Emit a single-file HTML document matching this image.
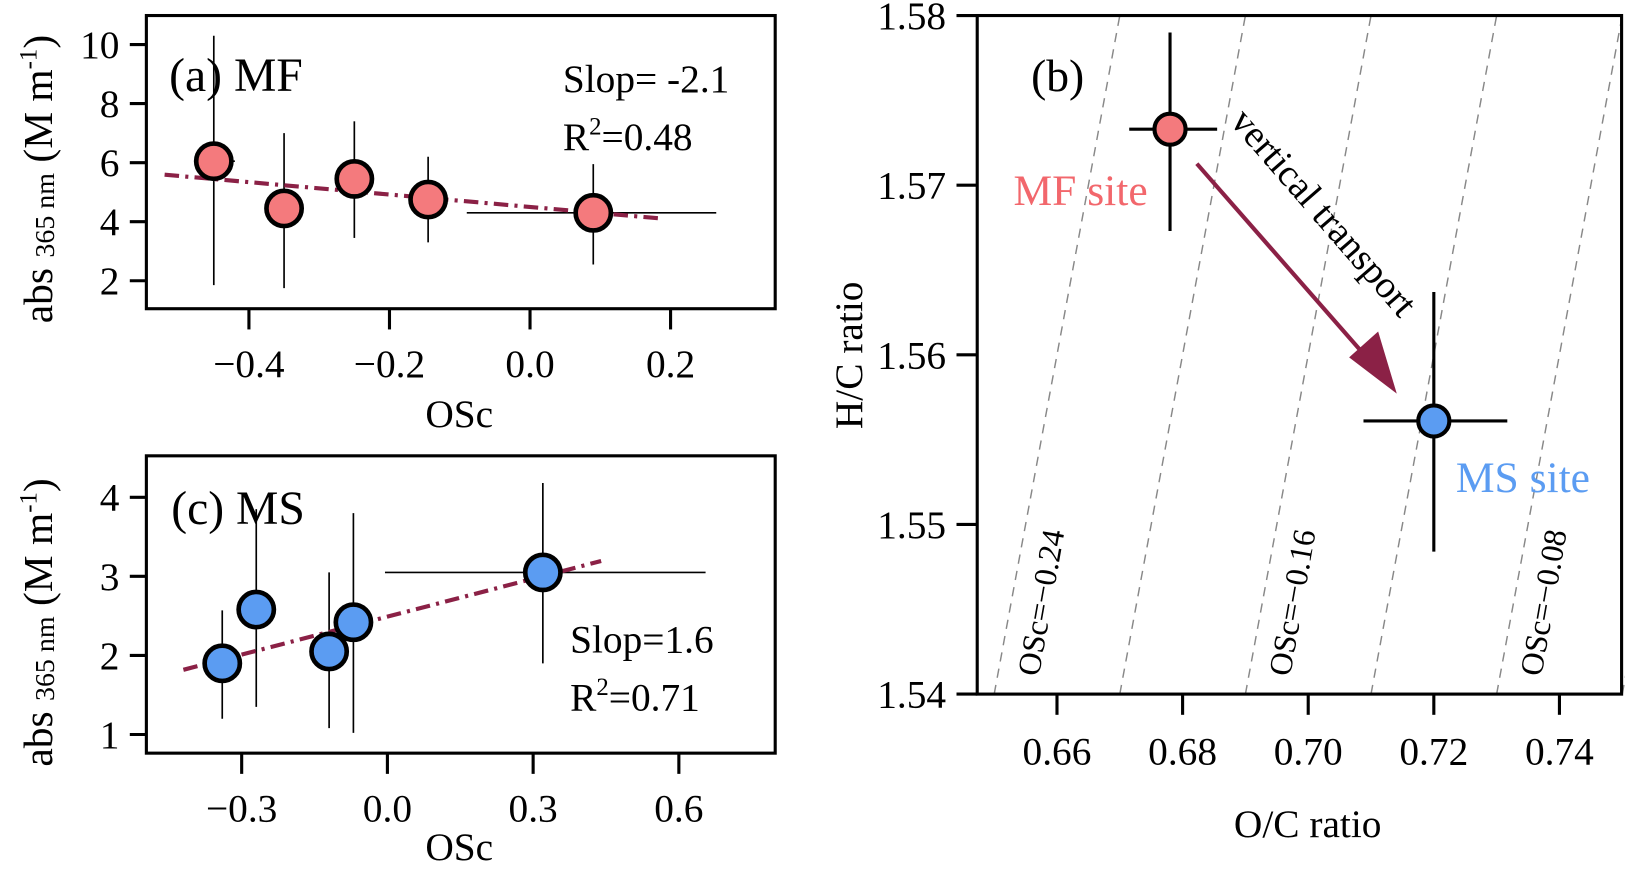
<!DOCTYPE html>
<html><head><meta charset="utf-8"><style>
html,body{margin:0;padding:0;background:#fff;}
svg, svg text{font-family:"Liberation Serif","DejaVu Serif",serif;}
</style></head><body>
<svg id="fig" width="1625" height="864" viewBox="0 0 1568 834" xmlns="http://www.w3.org/2000/svg" font-family="Liberation Serif, serif"></svg>
<script>
// ---- Panel (a) MF data ----
const aX=[-0.45,-0.35,-0.25,-0.145,0.09];
const aY=[6.05,4.45,5.45,4.75,4.3];
const aYlo=[1.85,1.75,3.45,3.3,2.55];
const aYhi=[10.3,7.0,7.4,6.2,5.95];
const aXlo=[-0.47,-0.35,-0.25,-0.145,-0.09];
const aXhi=[-0.42,-0.35,-0.25,-0.145,0.265];
const aFit=[4.5,-2.1]; const aFitRange=[-0.52,0.19];
const aXTicks=[-0.4,-0.2,0.0,0.2]; const aXTickLabels=["\u22120.4","\u22120.2","0.0","0.2"];
const aYTicks=[2,4,6,8,10];
// ---- Panel (c) MS data ----
const cX=[-0.34,-0.27,-0.12,-0.07,0.32];
const cY=[1.9,2.58,2.05,2.42,3.05];
const cYlo=[1.2,1.35,1.08,1.02,1.9];
const cYhi=[2.57,3.85,3.05,3.8,4.18];
const cXlo=[-0.36,-0.28,-0.14,-0.08,-0.005];
const cXhi=[-0.32,-0.26,-0.10,-0.06,0.655];
const cFit=[2.49,1.6]; const cFitRange=[-0.42,0.44];
const cXTicks=[-0.3,0.0,0.3,0.6]; const cXTickLabels=["\u22120.3","0.0","0.3","0.6"];
const cYTicks=[1,2,3,4];
// ---- Panel (b) van Krevelen ----
const bOC=[0.678,0.720]; const bHC=[1.5733,1.5561];
const bOClo=[0.6715,0.7088]; const bOChi=[0.6855,0.7317];
const bHClo=[1.5673,1.5484]; const bHChi=[1.579,1.5637];
const bOsc=[-0.24,-0.20,-0.16,-0.12,-0.08,-0.04];
const bOscLabeled=[-0.24,-0.16,-0.08];
const bXTicks=[0.66,0.68,0.70,0.72,0.74]; const bXTickLabels=["0.66","0.68","0.70","0.72","0.74"];
const bYTicks=[1.54,1.55,1.56,1.57,1.58];

const NS="http://www.w3.org/2000/svg";
const svg=document.getElementById('fig');
const FF="Liberation Serif, serif";
function mk(tag,attrs,parent,text){const e=document.createElementNS(NS,tag);for(const k in attrs)e.setAttribute(k,attrs[k]);if(tag==='text')e.setAttribute('font-family',FF);if(text!==undefined)e.textContent=text;(parent||svg).appendChild(e);return e;}
function lin(d0,d1,p0,p1){return v=>p0+(v-d0)*(p1-p0)/(d1-d0);}

function scatterPanel(cfg){
  const g=mk('g',{});
  
  
  const sx=cfg.sx, sy=cfg.sy, B=cfg.box;
  cfg.xt.forEach((t,i)=>{
    const l=mk('line',{x1:sx(t),x2:sx(t),y1:B.b,y2:B.b+20,stroke:'#000','stroke-width':3},g);
    
    const tx=mk('text',{x:sx(t),y:B.b+66,'font-size':38,'text-anchor':'middle'},g,cfg.xtl[i]);
    
  });
  cfg.yt.forEach(t=>{
    const l=mk('line',{x1:B.l-16,x2:B.l,y1:sy(t),y2:sy(t),stroke:'#000','stroke-width':3},g);
    
    const tx=mk('text',{x:B.l-26,y:sy(t)+13,'font-size':38,'text-anchor':'end'},g,String(t));
    
  });
  cfg.X.forEach((x,i)=>{
    const v=mk('line',{x1:sx(x),x2:sx(x),y1:sy(cfg.Ylo[i]),y2:sy(cfg.Yhi[i]),stroke:'#000','stroke-width':1.6},g);
    
    const h=mk('line',{x1:sx(cfg.Xlo[i]),x2:sx(cfg.Xhi[i]),y1:sy(cfg.Y[i]),y2:sy(cfg.Y[i]),stroke:'#000','stroke-width':1.6},g);
    
  });
  const f=cfg.fit, r=cfg.fr;
  const fl=mk('line',{x1:sx(r[0]),y1:sy(f[0]+f[1]*r[0]),x2:sx(r[1]),y2:sy(f[0]+f[1]*r[1]),stroke:'#8b2146','stroke-width':4,'stroke-dasharray':'14 6 3 6'},g);
  
  cfg.X.forEach((x,i)=>{
    const c=mk('circle',{cx:sx(x),cy:sy(cfg.Y[i]),r:17,fill:cfg.color,stroke:'#000','stroke-width':4.5},g);
    
  });
  const bx=mk('rect',{x:B.l,y:B.t,width:B.r-B.l,height:B.b-B.t,fill:'none',stroke:'#000','stroke-width':3},g);
  
  return g;
}

scatterPanel({name:'panel-a-mf',box:{l:141,r:748,t:15,b:298},sx:lin(-0.4,0.2,240,647),sy:lin(2,10,271,43),
  xt:aXTicks,xtl:aXTickLabels,yt:aYTicks,X:aX,Y:aY,Ylo:aYlo,Yhi:aYhi,Xlo:aXlo,Xhi:aXhi,fit:aFit,fr:aFitRange,color:'#f47a7d'});
scatterPanel({name:'panel-c-ms',box:{l:141,r:748,t:440,b:727},sx:lin(-0.3,0.6,233,655),sy:lin(1,4,709,480),
  xt:cXTicks,xtl:cXTickLabels,yt:cYTicks,X:cX,Y:cY,Ylo:cYlo,Yhi:cYhi,Xlo:cXlo,Xhi:cXhi,fit:cFit,fr:cFitRange,color:'#5b9cf2'});

const gb=mk('g',{});


const bx=lin(0.66,0.74,1020,1505), by=lin(1.54,1.58,670,15);
const BB={l:943,r:1565,t:15,b:670};
bOsc.forEach(o=>{
  const l=mk('line',{x1:bx((o+1.54)/2),y1:by(1.54),x2:bx((o+1.58)/2),y2:by(1.58),stroke:'#888','stroke-width':1.4,'stroke-dasharray':'9 7'},gb);
  
});
bOscLabeled.forEach(o=>{
  const x=bx((o+1.541)/2)+40, y=by(1.541);
  const t=mk('text',{x:x,y:y,'font-size':31,transform:`rotate(-80 ${x} ${y})`},gb,'OSc=\u2212'+Math.abs(o).toFixed(2));
  
});
bXTicks.forEach((t,i)=>{
  const l=mk('line',{x1:bx(t),x2:bx(t),y1:BB.b,y2:BB.b+20,stroke:'#000','stroke-width':3},gb);
  
  const tx=mk('text',{x:bx(t),y:BB.b+68,'font-size':38,'text-anchor':'middle'},gb,bXTickLabels[i]);
  
});
bYTicks.forEach(t=>{
  const l=mk('line',{x1:BB.l-20,x2:BB.l,y1:by(t),y2:by(t),stroke:'#000','stroke-width':3},gb);
  
  const tx=mk('text',{x:BB.l-30,y:by(t)+13,'font-size':38,'text-anchor':'end'},gb,t.toFixed(2));
  
});
bOC.forEach((o,i)=>{
  const v=mk('line',{x1:bx(o),x2:bx(o),y1:by(bHClo[i]),y2:by(bHChi[i]),stroke:'#000','stroke-width':3},gb);
  
  const h=mk('line',{x1:bx(bOClo[i]),x2:bx(bOChi[i]),y1:by(bHC[i]),y2:by(bHC[i]),stroke:'#000','stroke-width':3},gb);
  
});
const colorsB=['#f47a7d','#5b9cf2'];
bOC.forEach((o,i)=>{
  const c=mk('circle',{cx:bx(o),cy:by(bHC[i]),r:15,fill:colorsB[i],stroke:'#000','stroke-width':4},gb);
  
});
const ar=mk('line',{x1:1155,y1:158,x2:1325,y2:352,stroke:'#8b2146','stroke-width':4},gb);

const ah=mk('polygon',{points:'1348,380 1302,345 1330,320',fill:'#8b2146'},gb);

const frb=mk('rect',{x:BB.l,y:BB.t,width:BB.r-BB.l,height:BB.b-BB.t,fill:'none',stroke:'#000','stroke-width':3},gb);

</script>
<script>
function T(name,attrs,html){const e=document.createElementNS("http://www.w3.org/2000/svg",'text');for(const k in attrs)e.setAttribute(k,attrs[k]);e.setAttribute('font-family','Liberation Serif, serif');e.innerHTML=html;


document.getElementById('fig').appendChild(e);}
T('panel-a-label',{x:163,y:88,'font-size':46},'(a) MF');
T('slope-a',{x:543,y:89,'font-size':38},'Slop= -2.1');
T('r2-a',{x:543,y:145,'font-size':38},'R<tspan dy="-15" font-size="24">2</tspan><tspan dy="15">=0.48</tspan>');
T('x-axis-title-a',{x:443,y:412,'font-size':38,'text-anchor':'middle'},'OSc');
T('y-axis-title-a',{x:0,y:0,'font-size':40,transform:'translate(50,312) rotate(-90)'},'abs <tspan font-size="27" dy="2">365 nm</tspan><tspan dy="-2"> (M m</tspan><tspan font-size="24" dy="-15">-1</tspan><tspan dy="15">)</tspan>');
T('panel-c-label',{x:165,y:506,'font-size':46},'(c) MS');
T('slope-c',{x:550,y:630,'font-size':38},'Slop=1.6');
T('r2-c',{x:550,y:686,'font-size':38},'R<tspan dy="-15" font-size="24">2</tspan><tspan dy="15">=0.71</tspan>');
T('x-axis-title-c',{x:443,y:830,'font-size':38,'text-anchor':'middle'},'OSc');
T('y-axis-title-c',{x:0,y:0,'font-size':40,transform:'translate(50,740) rotate(-90)'},'abs <tspan font-size="27" dy="2">365 nm</tspan><tspan dy="-2"> (M m</tspan><tspan font-size="24" dy="-15">-1</tspan><tspan dy="15">)</tspan>');
T('panel-b-label',{x:995,y:88,'font-size':44},'(b)');
T('mf-site-label',{x:978,y:198,'font-size':42,fill:'#f2676c'},'MF site');
T('ms-site-label',{x:1405,y:475,'font-size':42,fill:'#5b9cf2'},'MS site');
T('vertical-transport-label',{x:0,y:0,'font-size':37,transform:'translate(1186,118) rotate(49)'},'vertical transport');
T('x-axis-title-b',{x:1262,y:808,'font-size':38,'text-anchor':'middle'},'O/C ratio');
T('y-axis-title-b',{x:0,y:0,'font-size':38,'text-anchor':'middle',transform:'translate(832,343) rotate(-90)'},'H/C ratio');
</script>
</body></html>
